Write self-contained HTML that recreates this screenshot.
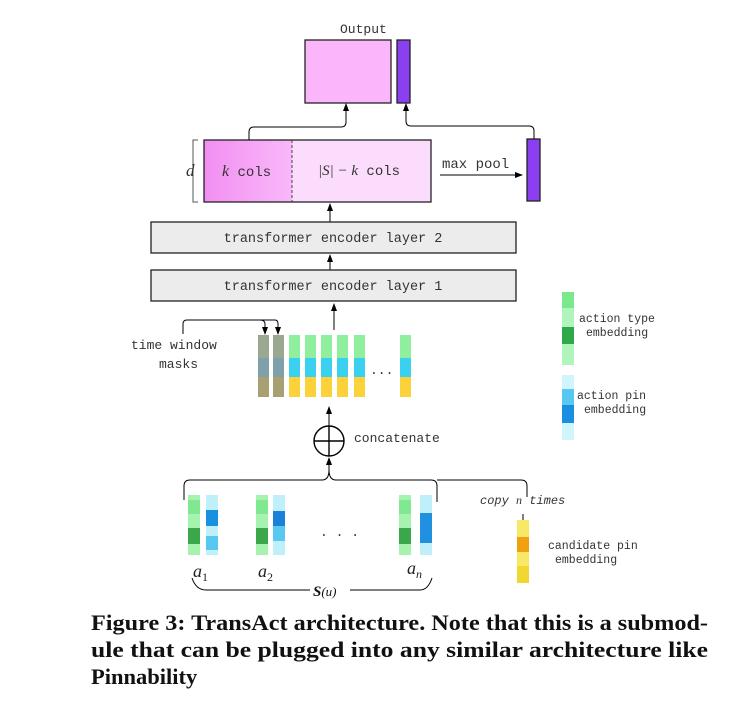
<!DOCTYPE html>
<html><head><meta charset="utf-8"><style>
html,body{margin:0;padding:0;background:#fff;width:733px;height:714px;overflow:hidden}
svg{display:block}
.m{font-family:"Liberation Mono",monospace;font-size:13px;fill:#333}
.c{font-family:"Liberation Serif",serif;font-weight:bold;font-size:22.5px;fill:#111}
</style></head><body>
<svg width="733" height="714" viewBox="0 0 733 714">
<defs>
<marker id="ar" markerWidth="8" markerHeight="8" refX="7" refY="4" orient="auto" markerUnits="userSpaceOnUse"><path d="M0,1 L8,4 L0,7 z" fill="#000"/></marker>
<linearGradient id="pk" x1="0" x2="1"><stop offset="0" stop-color="#f28ff2"/><stop offset="1" stop-color="#f9b8f9"/></linearGradient>
</defs>
<text x="340" y="33" class="m">Output</text>
<rect x="305" y="40" width="86" height="63" fill="#fbb6fb" stroke="#222" stroke-width="1.3"/>
<rect x="397" y="40" width="13" height="63" fill="#8a3ff0" stroke="#222" stroke-width="1.3"/>
<rect x="204" y="140" width="88" height="62" fill="url(#pk)"/>
<rect x="292" y="140" width="139" height="62" fill="#fcdcfc"/>
<rect x="204" y="140" width="227" height="62" fill="none" stroke="#222" stroke-width="1.3"/>
<line x1="292" y1="140" x2="292" y2="202" stroke="#444" stroke-dasharray="3,2"/>
<text x="222" y="176" class="m" style="font-size:14px"><tspan font-family="Liberation Serif" font-style="italic" font-size="16">k</tspan> cols</text>
<text x="318" y="175" class="m" style="font-size:14px"><tspan font-family="Liberation Serif" font-style="italic" font-size="15">|S| − k</tspan> cols</text>
<path d="M198,140 H193 V202 H198" fill="none" stroke="#555"/>
<text x="186" y="176" font-family="Liberation Serif" font-style="italic" font-size="17" fill="#333">d</text>
<text x="442" y="168" class="m" style="font-size:14px">max pool</text>
<line x1="440" y1="175" x2="522" y2="175" stroke="#000" marker-end="url(#ar)"/>
<rect x="527" y="139" width="13" height="62" fill="#8a3ff0" stroke="#222" stroke-width="1.3"/>
<path d="M249,140 V132 Q249,127 254,127 H341 Q346,127 346,122 V104" fill="none" stroke="#000" marker-end="url(#ar)"/>
<path d="M534,139 V131 Q534,126 529,126 H411 Q406,126 406,121 V104" fill="none" stroke="#000" marker-end="url(#ar)"/>
<line x1="330" y1="222" x2="330" y2="204" stroke="#000" marker-end="url(#ar)"/>
<rect x="151" y="222" width="365" height="31" fill="#ececec" stroke="#222" stroke-width="1.3"/>
<text x="333" y="242" class="m" text-anchor="middle" style="font-size:13.5px">transformer encoder layer 2</text>
<line x1="330" y1="270" x2="330" y2="255" stroke="#000" marker-end="url(#ar)"/>
<rect x="151" y="270" width="365" height="31" fill="#ececec" stroke="#222" stroke-width="1.3"/>
<text x="333" y="290" class="m" text-anchor="middle" style="font-size:13.5px">transformer encoder layer 1</text>
<line x1="334" y1="330" x2="334" y2="304" stroke="#000" marker-end="url(#ar)"/>
<g>
<rect x="258" y="335" width="11" height="62" fill="#9aa890"/>
<rect x="258" y="358" width="11" height="19" fill="#7fa0a8"/>
<rect x="258" y="377" width="11" height="20" fill="#a8a070"/>
<rect x="273" y="335" width="11" height="62" fill="#9aa890"/>
<rect x="273" y="358" width="11" height="19" fill="#7fa0a8"/>
<rect x="273" y="377" width="11" height="20" fill="#a8a070"/>
</g>
<g id="col">
<rect x="289" y="335" width="11" height="23" fill="#8fef9f"/>
<rect x="289" y="358" width="11" height="19" fill="#3ad0f0"/>
<rect x="289" y="377" width="11" height="20" fill="#fcd23a"/>
</g>
<use href="#col" x="16"/><use href="#col" x="32"/><use href="#col" x="48"/><use href="#col" x="65"/><use href="#col" x="111"/>
<text x="370" y="374" class="m">...</text>
<path d="M183,334 V324 Q183,320 187,320 H275 Q278,320 278,324 V334" fill="none" stroke="#000" marker-end="url(#ar)"/>
<path d="M260,320 Q265,320 265,324 V334" fill="none" stroke="#000" marker-end="url(#ar)"/>
<text x="131" y="349" class="m">time window</text>
<text x="159" y="368" class="m">masks</text>
<line x1="329" y1="426" x2="329" y2="407" stroke="#000" marker-end="url(#ar)"/>
<circle cx="329" cy="441" r="15" fill="none" stroke="#000" stroke-width="1.4"/>
<line x1="314" y1="441" x2="344" y2="441" stroke="#000" stroke-width="1.4"/>
<line x1="329" y1="426" x2="329" y2="456" stroke="#000" stroke-width="1.4"/>
<text x="354" y="442" class="m">concatenate</text>
<path d="M184,500 V486 Q184,480 190,480 H322 Q329,480 329,470 V458" fill="none" stroke="#000" marker-end="url(#ar)"/>
<path d="M329,470 Q329,480 336,480 H431 Q437,480 437,486 V502" fill="none" stroke="#000"/>
<path d="M437,480 H521 Q527,480 527,486 V497" fill="none" stroke="#000"/>
<text x="480" y="504" class="m" font-style="italic" style="font-size:12px">copy <tspan font-family="Liberation Serif">n</tspan> times</text>
<line x1="523" y1="514" x2="523" y2="522" stroke="#000"/>
<g id="gc"><rect x="188" y="495" width="12" height="60" fill="#a6f3b0"/><rect x="188" y="528" width="12" height="16" fill="#3aa84a"/><rect x="188" y="500" width="12" height="14" fill="#7fe890"/></g>
<use href="#gc" x="68"/><use href="#gc" x="211"/>
<rect x="206" y="495" width="12" height="60" fill="#bff0fa"/><rect x="206" y="510" width="12" height="16" fill="#1a90e0"/><rect x="206" y="536" width="12" height="14" fill="#58c8f0"/>
<rect x="273" y="495" width="12" height="60" fill="#bff0fa"/><rect x="273" y="511" width="12" height="15" fill="#1a80d8"/><rect x="273" y="526" width="12" height="15" fill="#58c8f0"/>
<rect x="420" y="495" width="12" height="60" fill="#bff0fa"/><rect x="420" y="513" width="12" height="30" fill="#2090e0"/>
<text x="320" y="536" class="m">. . .</text>
<text x="193" y="577" font-family="Liberation Serif" font-style="italic" font-size="18" fill="#222">a<tspan font-style="normal" font-size="12" dy="4">1</tspan></text>
<text x="258" y="577" font-family="Liberation Serif" font-style="italic" font-size="18" fill="#222">a<tspan font-style="normal" font-size="12" dy="4">2</tspan></text>
<text x="407" y="574" font-family="Liberation Serif" font-style="italic" font-size="18" fill="#222">a<tspan font-size="12" dy="4">n</tspan></text>
<path d="M192,578 Q196,590 206,590 H310" fill="none" stroke="#000"/>
<path d="M350,590 H420 Q428,590 432,578" fill="none" stroke="#000"/>
<text x="313" y="596" font-family="Liberation Serif" font-style="italic" font-weight="bold" font-size="15" fill="#111">S<tspan font-weight="normal" font-size="13">(u)</tspan></text>
<rect x="517" y="520" width="12" height="63" fill="#f8e868"/><rect x="517" y="537" width="12" height="15" fill="#f0a010"/><rect x="517" y="566" width="12" height="17" fill="#f0d830"/>
<text x="548" y="549" class="m" style="font-size:11.5px">candidate pin</text>
<text x="555" y="563" class="m" style="font-size:11.5px">embedding</text>
<rect x="562" y="292" width="12" height="73" fill="#b0f5bb"/><rect x="562" y="292" width="12" height="16" fill="#7be88c"/><rect x="562" y="327" width="12" height="17" fill="#2fa84a"/>
<text x="579" y="322" class="m" style="font-size:11.5px">action type</text>
<text x="586" y="336" class="m" style="font-size:11.5px">embedding</text>
<rect x="562" y="375" width="12" height="65" fill="#d0f5fc"/><rect x="562" y="389" width="12" height="16" fill="#58c8f0"/><rect x="562" y="405" width="12" height="18" fill="#1a8ee0"/>
<text x="577" y="399" class="m" style="font-size:11.5px">action pin</text>
<text x="584" y="413" class="m" style="font-size:11.5px">embedding</text>
<text x="91" y="630" class="c" textLength="617" lengthAdjust="spacingAndGlyphs">Figure 3: TransAct architecture. Note that this is a submod-</text>
<text x="91" y="657" class="c" textLength="617" lengthAdjust="spacingAndGlyphs">ule that can be plugged into any similar architecture like</text>
<text x="91" y="684" class="c">Pinnability</text>
</svg>
</body></html>
